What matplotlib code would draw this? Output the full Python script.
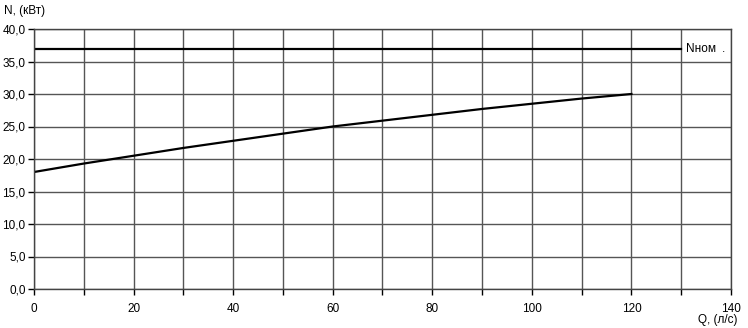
import matplotlib
matplotlib.use("Agg")
import matplotlib.pyplot as plt
from matplotlib.ticker import FuncFormatter, MultipleLocator

q = [0, 10, 20, 30, 40, 50, 60, 70, 80, 90, 100, 110, 120]
n = [18.0, 19.3, 20.5, 21.7, 22.8, 23.9, 25.0, 25.9, 26.8, 27.7, 28.5, 29.3, 30.0]
n_nom = 37.0
x_ticks = [0, 20, 40, 60, 80, 100, 120, 140]
y_ticks = [0, 5, 10, 15, 20, 25, 30, 35, 40]

plt.rcParams['font.family'] = ['Liberation Sans', 'DejaVu Sans']
fig = plt.figure(figsize=(7.48, 3.28), dpi=100)
ax = fig.add_axes([34/748, 39/328, 697/748, 260/328])

ax.plot(q, n, color='black', lw=1.6)
ax.plot([0, 130], [n_nom, n_nom], color='black', lw=1.6)

ax.set_xlim(0, 140)
ax.set_ylim(0, 40)
ax.set_xticks(x_ticks)
ax.xaxis.set_minor_locator(MultipleLocator(10))
ax.set_yticks(y_ticks)
ax.yaxis.set_major_formatter(FuncFormatter(lambda v, p: f"{v:.1f}".replace('.', ',')))
ax.grid(True, which='both', color='#555555', lw=1.0)
ax.tick_params(which='both', direction='out', length=4, width=1, colors='black', labelsize=8.5)
ax.tick_params(axis='x', pad=6)
ax.tick_params(axis='y', pad=2)
for s in ax.spines.values():
    s.set_color('#444444')
    s.set_linewidth(1.0)

fig.text(4/748, 1 - 11/328, "N, (кВт)", fontsize=8.5, va='center', ha='left')
fig.text(718/748, 1 - 320/328, "Q, (л/с)", fontsize=8.5, va='center', ha='center')
ax.text(131, n_nom, "Nном", fontsize=8.5, va='center', ha='left')
ax.text(138.2, n_nom, ".", fontsize=8.5, va='center', ha='left')

fig.savefig("out.png", dpi=100)
